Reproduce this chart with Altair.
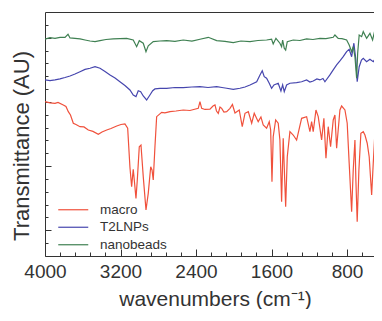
import altair as alt
import pandas as pd

# FTIR spectra: (wavenumber cm-1, transmittance AU)
macro = [(4000,12.02),(3947,11.92),(3894,11.88),(3862,11.96),(3806,11.76),(3778,11.64),(3753,11.24),
         (3730,10.98),(3700,10.34),(3672,10.24),(3629,10.07),(3587,10.05),(3541,9.81),(3492,9.70),
         (3435,9.48),(3396,9.66),(3346,9.81),(3301,9.93),(3240,10.12),(3195,10.24),(3153,10.28),
         (3124,9.95),(3100,6.91),(3082,5.40),(3065,6.75),(3054,5.92),(3036,4.49),(3022,5.92),
         (3001,8.51),(2983,8.64),(2959,6.18),(2930,3.58),(2906,4.88),(2880,6.95),(2866,6.70),
         (2853,5.92),(2835,8.51),(2817,10.85),(2764,11.19),(2729,11.14),(2676,11.24),(2612,11.29),
         (2535,11.37),(2464,11.33),(2376,11.50),(2358,12.02),(2340,11.50),(2305,11.41),(2252,11.43),
         (2220,11.68),(2199,11.76),(2183,11.29),(2164,11.11),(2146,11.60),(2128,11.50),(2104,11.21),
         (2075,11.24),(2040,11.50),(2014,11.80),(1987,11.14),(1942,11.37),(1910,10.07),(1881,11.11),
         (1846,11.24),(1810,10.34),(1783,11.11),(1741,10.46),(1712,10.83),(1688,10.20),(1652,9.95),
         (1624,10.46),(1609,9.81),(1595,5.79),(1582,9.29),(1556,10.59),(1529,10.34),(1511,9.03),
         (1493,4.23),(1476,9.17),(1450,3.84),(1433,7.73),(1405,9.68),(1370,9.42),(1334,9.03),
         (1281,10.72),(1228,10.85),(1193,9.68),(1175,10.46),(1158,9.68),(1129,11.37),(1105,10.85),
         (1069,9.03),(1045,10.72),(1023,7.61),(999,10.07),(974,8.51),(946,10.59),(928,10.98),
         (910,8.39),(875,11.37),(857,11.68),(822,11.37),(798,10.34),(777,7.22),(751,3.45),
         (734,6.70),(716,9.03),(706,5.92),(692,2.67),(674,6.70),(653,9.56),(628,9.68),(610,9.42),
         (586,8.78),(565,7.73),(539,4.75),(522,7.22),(497,10.59),(469,11.63),(451,12.02),(420,11.92)]

t2lnps = [(4000,13.71),(3947,13.65),(3894,13.71),(3841,13.79),(3788,13.90),(3735,14.02),(3682,14.17),
          (3629,14.35),(3576,14.53),(3523,14.62),(3470,14.74),(3417,14.62),(3364,14.37),(3311,14.10),
          (3258,13.86),(3206,13.57),(3153,13.28),(3100,12.93),(3065,12.54),(3036,12.41),(3012,12.87),
          (2986,12.80),(2959,12.46),(2923,12.15),(2888,12.54),(2859,12.87),(2835,13.01),(2782,13.05),
          (2711,13.06),(2623,13.12),(2535,13.11),(2443,13.16),(2358,13.19),(2273,13.12),(2181,13.19),
          (2125,13.12),(2075,13.06),(2005,12.98),(1934,13.06),(1881,13.16),(1828,13.32),(1757,13.57),
          (1722,14.10),(1698,14.43),(1677,13.96),(1652,13.84),(1624,13.45),(1599,13.06),(1574,13.32),
          (1529,13.45),(1500,12.85),(1482,13.32),(1465,12.80),(1440,13.32),(1405,13.45),(1334,13.50),
          (1281,13.57),(1228,13.71),(1193,13.55),(1158,13.63),(1119,13.79),(1087,13.71),(1055,13.82),
          (1034,13.57),(981,14.10),(946,14.49),(910,14.88),(875,15.19),(840,15.52),(804,15.91),
          (777,16.10),(751,15.52),(727,16.57),(706,15.26),(692,13.57),(671,14.74),(647,15.26),
          (628,15.40),(592,15.13),(557,15.32),(522,15.13),(486,15.52),(462,16.43),(430,16.82)]

nanobeads = [(4000,16.88),(3947,17.00),(3894,16.94),(3841,17.03),(3788,17.02),(3756,17.27),(3735,16.98),
             (3682,16.94),(3629,16.90),(3576,16.82),(3523,16.74),(3470,16.69),(3417,16.77),(3354,16.86),
             (3277,16.90),(3206,16.92),(3135,16.95),(3065,16.82),(3029,16.30),(3001,16.77),(2959,16.57),
             (2930,15.91),(2906,16.36),(2853,16.69),(2782,16.74),(2711,16.77),(2623,16.72),(2535,16.82),
             (2443,16.74),(2358,16.88),(2270,17.03),(2181,16.77),(2093,16.71),(2005,16.61),(1924,16.74),
             (1828,16.69),(1744,16.78),(1652,16.82),(1599,16.88),(1582,16.51),(1553,16.95),(1511,16.57),
             (1493,16.30),(1482,16.82),(1465,16.18),(1450,16.04),(1433,16.69),(1370,16.82),(1299,16.78),
             (1228,16.90),(1161,16.86),(1087,16.95),(1023,16.92),(946,17.03),(928,17.21),(893,16.95),
             (854,16.92),(804,16.82),(777,16.43),(751,15.91),(734,16.30),(716,15.52),(698,13.84),
             (687,15.79),(671,17.21),(645,17.08),(628,17.47),(592,16.95),(557,17.34),(529,16.82),
             (504,17.60),(480,17.21),(459,17.73),(438,16.57),(420,16.98)]

series_names = ["macro", "T2LNPs", "nanobeads"]
series_colors = ["#F0513C", "#4646AE", "#3F8052"]

x_major = [4000, 3200, 2400, 1600, 800]
x_minor = [3840, 3680, 3520, 3360, 3040, 2880, 2720, 2560, 2240, 2080, 1920, 1760,
           1440, 1280, 1120, 960, 640]
y_major = [2, 7, 12, 17]
y_minor = [1, 3, 4, 5, 6, 8, 9, 10, 11, 13, 14, 15, 16, 18]

rows = []
for name, pts in zip(series_names, [macro, t2lnps, nanobeads]):
    for w, t in pts:
        rows.append({"wn": w, "t": t, "series": name})
df = pd.DataFrame(rows)

W, H = 329, 244
FONT = "Liberation Sans"
INK = "#333333"

xscale = alt.Scale(domain=[4000, 514], nice=False, zero=False)
yscale = alt.Scale(domain=[0, 19], nice=False, zero=False)

lines = alt.Chart(df).mark_line(strokeWidth=1.2, clip=True).encode(
    x=alt.X("wn:Q", scale=xscale, axis=alt.Axis(
        orient="bottom", values=x_major, format="d", ticks=False, grid=False,
        labelFlush=False, labelOverlap=False,
        labelFontSize=19, labelPadding=6, labelColor=INK, labelFont=FONT,
        domainColor=INK, title="wavenumbers (cm⁻¹)", titleFont=FONT, titleFontSize=21,
        titleFontWeight="normal", titleColor=INK, titleBaseline="alphabetic",
        titleX=170, titleY=49)),
    y=alt.Y("t:Q", scale=yscale, axis=alt.Axis(
        orient="left", ticks=False, labels=False, grid=False, domainColor=INK,
        title="Transmittance (AU)", titleFont=FONT, titleFontSize=22,
        titleFontWeight="normal", titleColor=INK, titleBaseline="alphabetic",
        titleX=-17, titleY=133.5)),
    color=alt.Color("series:N", scale=alt.Scale(domain=series_names, range=series_colors),
                    legend=alt.Legend(orient="none", legendX=21.5, legendY=191, title=None,
                                      symbolType="M-7.5,0H7.5", symbolSize=16, symbolStrokeWidth=1.2,
                                      labelOffset=20, labelFontSize=13.5, labelFont=FONT,
                                      labelColor=INK, rowPadding=2.5, padding=0)),
)

major = alt.Chart(df).mark_line(strokeOpacity=0).encode(
    x=alt.X("wn:Q", scale=xscale, axis=alt.Axis(
        orient="top", offset=-H, values=x_major, tickSize=7, tickColor=INK,
        labels=False, domain=False, grid=False, title=None)),
    y=alt.Y("t:Q", scale=yscale, axis=alt.Axis(
        orient="right", offset=-W, values=y_major, tickSize=6, tickColor=INK,
        labels=False, domain=False, grid=False, title=None)),
)

minor = alt.Chart(df).mark_line(strokeOpacity=0).encode(
    x=alt.X("wn:Q", scale=xscale, axis=alt.Axis(
        orient="top", offset=-H, values=x_minor, tickSize=4, tickColor=INK,
        labels=False, domain=False, grid=False, title=None)),
    y=alt.Y("t:Q", scale=yscale, axis=alt.Axis(
        orient="right", offset=-W, values=y_minor, tickSize=3, tickColor=INK,
        labels=False, domain=False, grid=False, title=None)),
)

border = alt.Chart(df).mark_line(strokeOpacity=0).encode(
    x=alt.X("wn:Q", scale=xscale, axis=alt.Axis(
        orient="top", ticks=False, labels=False, grid=False, domainColor=INK, title=None)),
    y=alt.Y("t:Q", scale=yscale, axis=None),
)

chart = alt.layer(major, minor, border, lines).resolve_axis(
    x="independent", y="independent"
).properties(
    width=W, height=H,
    autosize=alt.AutoSizeParams(type="none"),
    padding={"left": 37, "top": 4, "right": 0, "bottom": 53},
    background="white",
).configure_view(strokeWidth=0)

chart.save("out.html", embed_options={"renderer": "svg", "actions": False})
